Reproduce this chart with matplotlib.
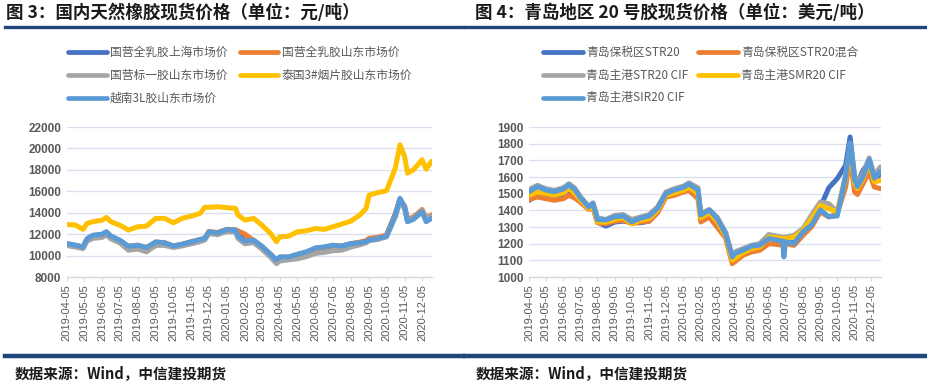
import matplotlib
matplotlib.use("Agg")
import matplotlib.pyplot as plt
from matplotlib.lines import Line2D
import pandas as pd

plt.rcParams['font.family'] = ['Liberation Sans', 'Noto Sans CJK SC', 'DejaVu Sans']

# ---------------- Left chart data (元/吨) ----------------
dates_l = ["2019-04-05","2019-04-20","2019-05-03","2019-05-10","2019-05-20","2019-06-05","2019-06-12",
           "2019-06-20","2019-07-05","2019-07-20","2019-08-05","2019-08-20","2019-09-05","2019-09-20",
           "2019-10-05","2019-10-20","2019-11-05","2019-11-20","2019-11-28","2019-12-05","2019-12-20",
           "2020-01-05","2020-01-20","2020-01-24","2020-02-05","2020-02-20","2020-03-05","2020-03-20",
           "2020-03-30","2020-04-05","2020-04-20","2020-05-05","2020-05-20","2020-06-05","2020-06-20",
           "2020-07-05","2020-07-20","2020-08-05","2020-08-20","2020-08-31","2020-09-05","2020-09-20",
           "2020-10-05","2020-10-20","2020-10-28","2020-11-05","2020-11-10","2020-11-20","2020-12-05",
           "2020-12-12","2020-12-21"]
sh_quanru = [11050,10900,10750,11500,11850,11950,12150,11750,11400,10800,10900,10700,11200,11150,10850,11000,
             11200,11450,11550,12150,12100,12400,12350,12100,11350,11400,10800,10050,9500,9800,9800,10050,
             10250,10650,10750,10900,10850,11100,11200,11350,11550,11650,11900,13850,15250,14500,13200,13450,
             14150,13300,13600]
sd_quanru = [11100,10950,10800,11550,11850,11950,12200,11800,11400,10850,10950,10750,11250,11200,10900,11050,
             11300,11500,11600,12250,12150,12450,12400,12300,12000,11400,10850,10100,9550,9850,9850,10100,
             10300,10650,10750,10900,10900,11100,11250,11400,11600,11700,11900,13900,15200,14600,13400,13600,
             14300,13500,13800]
sd_biaoyi = [10950,10800,10650,11350,11600,11700,11950,11550,11200,10500,10600,10350,10950,10950,10750,10900,
             11100,11300,11450,12050,11950,12250,12200,11600,11100,11200,10600,9850,9250,9500,9600,9700,
             9900,10200,10300,10450,10500,10800,11000,11200,11400,11500,11750,13600,15000,14400,13300,13450,
             14200,13400,13700]
thai_rss3 = [12900,12850,12450,13000,13160,13310,13560,13160,12840,12380,12690,12750,13470,13470,13060,13470,
             13690,13940,14500,14500,14560,14470,14400,13780,13310,13470,12840,12060,11300,11750,11810,12220,
             12310,12530,12440,12690,12940,13220,13780,14400,15650,15870,16060,18160,20340,19250,17690,18000,
             18940,18060,18780]
viet_3l = [11125,10970,10810,11590,11900,12000,12220,11810,11440,10875,10970,10750,11280,11190,10900,11060,
           11280,11500,11600,12220,12120,12440,12375,11800,11340,11440,10870,10125,9600,9875,9875,10125,
           10340,10720,10810,10970,10875,11125,11190,11300,11440,11590,11810,13780,15340,14560,13160,13375,
           14090,13160,13470]
names_l = ["国营全乳胶上海市场价", "国营全乳胶山东市场价", "国营标一胶山东市场价", "泰国3#烟片胶山东市场价", "越南3L胶山东市场价"]

# ---------------- Right chart data (美元/吨) ----------------
dates_r = ["2019-04-05","2019-04-20","2019-05-05","2019-05-20","2019-06-05","2019-06-15","2019-06-25",
           "2019-07-05","2019-07-20","2019-07-28","2019-08-05","2019-08-20","2019-09-05","2019-09-20",
           "2019-10-05","2019-10-20","2019-11-05","2019-11-20","2019-12-05","2019-12-20","2020-01-05",
           "2020-01-15","2020-01-31","2020-02-05","2020-02-20","2020-03-05","2020-03-20","2020-04-01",
           "2020-04-05","2020-04-20","2020-05-05","2020-05-20","2020-06-05","2020-06-20","2020-06-30",
           "2020-07-02","2020-07-05","2020-07-20","2020-08-05","2020-08-20","2020-09-05","2020-09-20",
           "2020-10-05","2020-10-20","2020-10-28","2020-11-05","2020-11-10","2020-11-20","2020-12-01",
           "2020-12-10","2020-12-21"]
bs_str20 = [1460,1490,1480,1470,1490,1510,1500,1470,1410,1420,1330,1305,1330,1335,1330,1325,1335,1390,1500,
            1520,1530,1550,1515,1370,1395,1345,1265,1115,1130,1150,1175,1185,1235,1225,1220,1215,1215,1205,
            1265,1320,1420,1535,1590,1670,1840,1600,1560,1640,1690,1580,1620]
bs_str20_mix = [1465,1480,1470,1460,1470,1490,1475,1450,1405,1415,1325,1320,1335,1340,1320,1330,1335,1385,1480,
                1490,1510,1520,1470,1330,1360,1300,1235,1080,1090,1130,1150,1160,1200,1195,1190,1190,1200,1190,
                1250,1300,1390,1360,1380,1540,1720,1510,1495,1560,1630,1540,1530]
zg_str20 = [1525,1550,1530,1520,1535,1560,1535,1485,1425,1445,1355,1345,1370,1375,1345,1360,1375,1420,1510,
            1530,1545,1565,1535,1380,1405,1360,1270,1130,1150,1170,1190,1200,1255,1245,1240,1240,1240,1250,
            1290,1370,1450,1440,1390,1610,1800,1600,1560,1620,1715,1610,1660]
zg_smr20 = [1490,1510,1500,1490,1505,1530,1505,1465,1410,1425,1330,1330,1345,1355,1320,1340,1350,1400,1490,
            1505,1520,1540,1500,1355,1385,1335,1250,1100,1110,1145,1170,1180,1240,1235,1230,1230,1230,1240,
            1280,1350,1430,1410,1390,1590,1770,1560,1530,1590,1690,1570,1580]
zg_sir20 = [1512,1542,1522,1512,1528,1552,1528,1478,1420,1440,1345,1342,1362,1366,1331,1352,1366,1412,1502,
            1522,1538,1558,1522,1372,1402,1352,1261,1120,1140,1161,1185,1191,1231,1221,1215,1120,1211,1201,
            1271,1311,1402,1362,1366,1603,1804,1583,1542,1603,1703,1593,1633]
names_r = ["青岛保税区STR20", "青岛保税区STR20混合", "青岛主港STR20 CIF", "青岛主港SMR20 CIF", "青岛主港SIR20 CIF"]

tick_dates = ["2019-04-05","2019-05-05","2019-06-05","2019-07-05","2019-08-05","2019-09-05","2019-10-05",
              "2019-11-05","2019-12-05","2020-01-05","2020-02-05","2020-03-05","2020-04-05","2020-05-05",
              "2020-06-05","2020-07-05","2020-08-05","2020-09-05","2020-10-05","2020-11-05","2020-12-05"]

colors = ["#4472C4", "#ED7D31", "#A5A5A5", "#FFC000", "#5B9BD5"]
TXT = "#595959"
GRID = "#D9DFEF"
NAVY = "#1F477A"

W, H = 928, 385
fig = plt.figure(figsize=(W / 100, H / 100), dpi=100)

def fx(px):
    return px / W

def fy(py):
    return 1 - py / H

def make_axes(x0, x1, y0, y1):
    return fig.add_axes([fx(x0), fy(y1), fx(x1 - x0), fy(y0) - fy(y1)])

def style_axes(ax, ylim, step, xr):
    ax.set_ylim(*ylim)
    ax.set_yticks(range(ylim[0], ylim[1] + 1, step))
    ax.set_xlim(pd.Timestamp(xr[0]), pd.Timestamp(xr[1]))
    ax.set_xticks([pd.Timestamp(d) for d in tick_dates])
    ax.set_xticklabels(tick_dates, rotation=90, fontsize=8, color=TXT)
    for lab in ax.get_yticklabels():
        lab.set_fontsize(8.5)
        lab.set_color(TXT)
        lab.set_fontweight('bold')
    for s in ['top', 'right', 'left']:
        ax.spines[s].set_visible(False)
    ax.spines['bottom'].set_color('#D9D9D9')
    ax.spines['bottom'].set_linewidth(1)
    ax.tick_params(axis='y', length=0, pad=4)
    ax.tick_params(axis='x', length=3, color='#D9D9D9', pad=2)
    ax.grid(axis='y', color=GRID, linewidth=0.9)
    ax.set_axisbelow(True)

# Left chart
axL = make_axes(66.7, 432, 127, 277)
dl = pd.to_datetime(dates_l)
for vals, c in zip([sh_quanru, sd_quanru, sd_biaoyi, thai_rss3, viet_3l], colors):
    axL.plot(dl, vals, color=c, lw=3.6, solid_joinstyle='round', solid_capstyle='round')
style_axes(axL, (8000, 22000), 2000, ("2019-04-05", "2020-12-22"))

# Right chart
axR = make_axes(529, 881, 127, 277)
dr = pd.to_datetime(dates_r)
for vals, c in zip([bs_str20, bs_str20_mix, zg_str20, zg_smr20, zg_sir20], colors):
    axR.plot(dr, vals, color=c, lw=3.6, solid_joinstyle='round', solid_capstyle='round')
style_axes(axR, (1000, 1900), 100, ("2019-04-05", "2020-12-22"))

# Titles and rules
fig.text(fx(6), fy(13), "图 3：国内天然橡胶现货价格（单位：元/吨）", fontsize=12.6, fontweight='bold',
         family=['Noto Sans CJK SC', 'DejaVu Sans'], va='center', ha='left', color='#1a1a1a')
fig.text(fx(475), fy(13), "图 4：青岛地区 20 号胶现货价格（单位：美元/吨）", fontsize=12.6, fontweight='bold',
         family=['Noto Sans CJK SC', 'DejaVu Sans'], va='center', ha='left', color='#1a1a1a')
for (a, b) in [(5, 463), (465, 928)]:
    fig.add_artist(Line2D([fx(a), fx(b)], [fy(27), fy(27)], color=NAVY, lw=2.4))
    fig.add_artist(Line2D([fx(a), fx(b)], [fy(356), fy(356)], color=NAVY, lw=3.2))

fig.text(fx(15), fy(373), "数据来源：Wind，中信建投期货", fontsize=10.5, fontweight='bold', style='italic',
         family=['Noto Sans CJK SC', 'DejaVu Sans'], va='center', ha='left', color='#1a1a1a')
fig.text(fx(476), fy(373), "数据来源：Wind，中信建投期货", fontsize=10.5, fontweight='bold', style='italic',
         family=['Noto Sans CJK SC', 'DejaVu Sans'], va='center', ha='left', color='#1a1a1a')

# Legends
def legend(names, col_x, rows_y):
    for i, (n, c) in enumerate(zip(names, colors)):
        col = i % 2
        row = i // 2
        x0, x1, tx = col_x[col]
        y = rows_y[row]
        fig.add_artist(Line2D([fx(x0), fx(x1)], [fy(y), fy(y)], color=c, lw=3.4, solid_capstyle='round'))
        fig.text(fx(tx), fy(y), n, fontsize=8.5, color=TXT, va='center', ha='left',
                 family=['Noto Sans CJK SC', 'DejaVu Sans'])

legend(names_l, [(68, 107, 110), (240, 278, 282)], [52, 75, 98])
legend(names_r, [(543, 583, 586), (698, 738, 741)], [52, 75, 98])

fig.savefig("out.png", dpi=100)
